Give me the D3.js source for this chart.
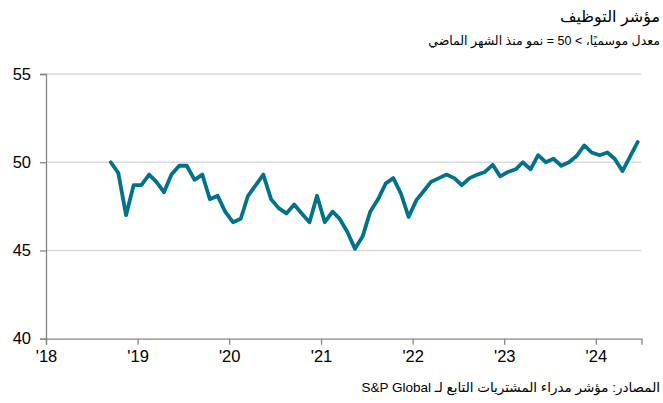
<!DOCTYPE html>
<html lang="ar">
<head>
<meta charset="UTF-8">
<title>مؤشر التوظيف</title>
<script src="https://d3js.org/d3.v7.min.js"></script>
<style>
  body { margin: 0; background: #fff; font-family: "Liberation Sans", Arial, "DejaVu Sans", sans-serif; }
  svg text { font-family: "Liberation Sans", Arial, "DejaVu Sans", sans-serif; fill: #000; }
  .rtl { direction: rtl; unicode-bidi: embed; }
</style>
</head>
<body>
<svg id="chart" width="663" height="403"></svg>
<script>
// بيانات شهرية: سبتمبر 2018 - يونيو 2024
const startMonth = [2018, 8]; // سبتمبر 2018 (الشهر يبدأ من 0)
const values = [
  50.0, 49.4, 47.0, 48.7,
  48.7, 49.3, 48.9, 48.3, 49.3, 49.8, 49.8, 49.0, 49.3, 47.9, 48.1, 47.2,
  46.6, 46.8, 48.1, 48.7, 49.3, 47.9, 47.4, 47.1, 47.6, 47.1, 46.6, 48.1,
  46.6, 47.2, 46.8, 46.05, 45.1, 45.8, 47.2, 47.9, 48.8, 49.1, 48.2, 46.9,
  47.85, 48.4, 48.9, 49.1, 49.3, 49.1, 48.7, 49.1, 49.3, 49.45, 49.85, 49.2,
  49.45, 49.6, 50.0, 49.6, 50.4, 50.0, 50.2, 49.8, 50.0, 50.35, 50.95, 50.55,
  50.4, 50.55, 50.2, 49.5, 50.3, 51.15
];
const yTicks = [40, 45, 50, 55];
const xTickYears = [2018, 2019, 2020, 2021, 2022, 2023, 2024];

const title = "مؤشر التوظيف";
const subtitle = "معدل موسميًا، > 50 = نمو منذ الشهر الماضي";
const source = "المصادر: مؤشر مدراء المشتريات التابع لـ S&P Global";

const data = values.map((v, i) => ({
  date: new Date(startMonth[0], startMonth[1] + i, 16),
  value: v
}));

const svg = d3.select("#chart");
const m = { left: 46, right: 641.5, top: 74, bottom: 338.7 };

const x = d3.scaleTime()
  .domain([new Date(2018, 0, 1), new Date(2024, 6, 1)])
  .range([m.left, m.right]);
const y = d3.scaleLinear().domain([40, 55]).range([m.bottom, m.top]);

// خطوط الشبكة
svg.append("g")
  .selectAll("line")
  .data(yTicks.filter(d => d > 40))
  .enter().append("line")
  .attr("x1", m.left).attr("x2", m.right)
  .attr("y1", d => y(d)).attr("y2", d => y(d))
  .attr("stroke", "#d9d9d9").attr("stroke-width", 1.5);

// المحور الأفقي
const xAxis = svg.append("g")
  .attr("transform", `translate(0,${m.bottom})`)
  .call(d3.axisBottom(x)
    .tickValues(xTickYears.map(yr => new Date(yr, 0, 1)))
    .tickFormat(d3.timeFormat("'%y"))
    .tickSizeOuter(0)
    .tickSize(6)
    .tickPadding(6));
xAxis.select(".domain").attr("stroke", "#868686").attr("stroke-width", 1.3);
xAxis.selectAll(".tick line").attr("stroke", "#868686").attr("stroke-width", 1.3);
xAxis.selectAll(".tick text").attr("font-size", 16.5).attr("fill", "#000");

// المحور الرأسي
const yAxis = svg.append("g")
  .attr("transform", `translate(${m.left},0)`)
  .call(d3.axisLeft(y).tickValues(yTicks).tickSizeOuter(0).tickSize(6).tickPadding(9));
yAxis.select(".domain").attr("stroke", "#868686").attr("stroke-width", 1.3);
yAxis.selectAll(".tick line").attr("stroke", "#868686").attr("stroke-width", 1.3);
yAxis.selectAll(".tick text").attr("font-size", 16.5).attr("fill", "#000");

// الخط
const line = d3.line().x(d => x(d.date)).y(d => y(d.value));
svg.append("path")
  .datum(data)
  .attr("d", line)
  .attr("fill", "none")
  .attr("stroke", "#00738b")
  .attr("stroke-width", 3.8)
  .attr("stroke-linejoin", "round")
  .attr("stroke-linecap", "round");

// العناوين
svg.append("text").attr("class", "rtl")
  .attr("x", 660).attr("y", 22)
  .attr("text-anchor", "start")
  .attr("font-size", 16)
  .text(title);
svg.append("text").attr("class", "rtl")
  .attr("x", 660).attr("y", 45)
  .attr("text-anchor", "start")
  .attr("font-size", 12.5)
  .text(subtitle);
svg.append("text").attr("class", "rtl")
  .attr("x", 660).attr("y", 392)
  .attr("text-anchor", "start")
  .attr("font-size", 13.5)
  .text(source);
</script>
</body>
</html>
